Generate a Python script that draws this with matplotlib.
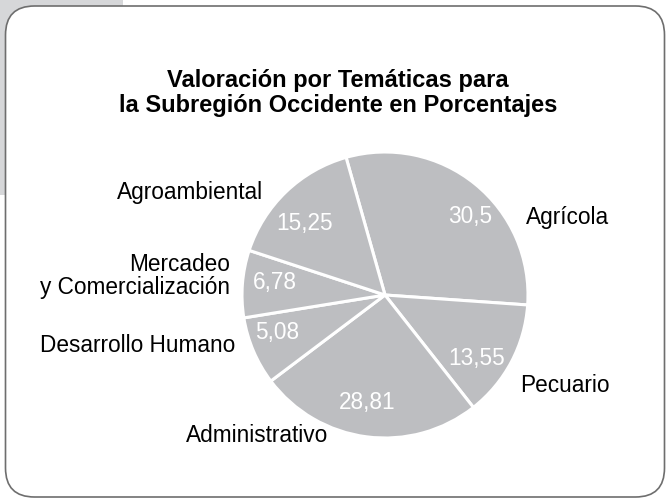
import matplotlib
matplotlib.use("Agg")
import matplotlib.pyplot as plt
from matplotlib.patches import FancyBboxPatch, Rectangle

categories = ["Agrícola", "Pecuario", "Administrativo", "Desarrollo Humano",
              "Mercadeo\ny Comercialización", "Agroambiental"]
# printed values
values = [30.5, 13.55, 28.81, 5.08, 6.78, 15.25]
value_labels = ["30,5", "13,55", "28,81", "5,08", "6,78", "15,25"]
# slice shares as actually drawn in the reference picture (%)
slice_shares = [30.5, 13.28, 25.33, 7.72, 7.61, 15.56]
title = "Valoración por Temáticas para\nla Subregión Occidente en Porcentajes"

W, H = 667, 499
FONT = "Liberation Sans"
fig = plt.figure(figsize=(W / 100, H / 100), dpi=100)
fig.patch.set_facecolor("white")

def Y(y):
    return H - y

# background axes in pixel coordinates
bg = fig.add_axes([0, 0, 1, 1])
bg.set_xlim(0, W)
bg.set_ylim(0, H)
bg.axis("off")
bg.set_zorder(0)
bg.add_patch(Rectangle((0, Y(195)), 123, 195, facecolor="#d6d7d9", edgecolor="none", zorder=0))
bg.add_patch(FancyBboxPatch((5.5, Y(497)), 659, 491,
                            boxstyle="round,pad=0,rounding_size=29",
                            facecolor="white", edgecolor="#6e6e6e", linewidth=1.2, zorder=1))

# pie axes
cx, cy, R = 385, 295, 143
pie_ax = fig.add_axes([(cx - R) / W, (H - cy - R) / H, 2 * R / W, 2 * R / H])
pie_ax.set_zorder(1)
pie_ax.pie(slice_shares, startangle=105.8, counterclock=False, radius=1.0,
           colors=["#bdbec1"] * len(slice_shares),
           wedgeprops=dict(edgecolor="white", linewidth=2.2))
pie_ax.set_xlim(-1, 1)
pie_ax.set_ylim(-1, 1)
pie_ax.set_aspect("equal")
pie_ax.axis("off")

# overlay for text
ov = fig.add_axes([0, 0, 1, 1])
ov.set_xlim(0, W)
ov.set_ylim(0, H)
ov.axis("off")
ov.set_zorder(2)

ov.text(338, Y(93), title, ha="center", va="center", fontsize=17, fontweight="bold",
        family=FONT, color="black", linespacing=1.1)

label_pos = [(568, 217, "center"), (565, 385, "center"), (257, 435, "center"),
             (138, 345, "center"), (230, 276, "right"), (190, 192, "center")]
for name, (x, y, ha) in zip(categories, label_pos):
    ov.text(x, Y(y), name, ha=ha, va="center", fontsize=16.3, family=FONT,
            color="black", linespacing=1.05, multialignment="right")

value_pos = [(470, 216), (477, 358), (367, 403), (277, 333), (275, 282), (305, 223)]
for lab, (x, y) in zip(value_labels, value_pos):
    ov.text(x, Y(y), lab, ha="center", va="center", fontsize=16.3, family=FONT,
            color="white")

fig.savefig("out.png", dpi=100)
